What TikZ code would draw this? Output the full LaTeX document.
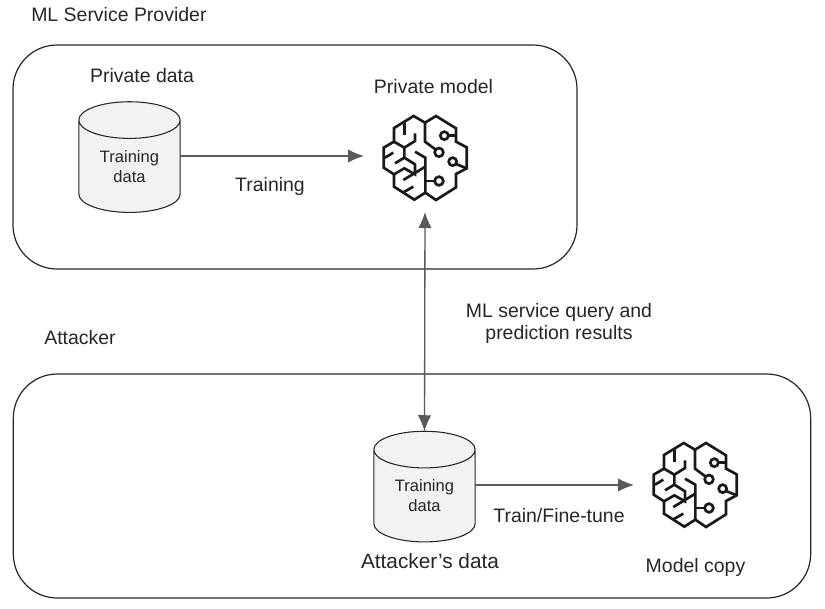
\documentclass[tikz,border=0pt]{standalone}
\usepackage{fontspec}
\setmainfont{Liberation Sans}
\usetikzlibrary{shapes.geometric}
\usetikzlibrary{arrows.meta}
\newcommand{\brainIcon}[1]{%%
  %% The outline and the wires of one brain.
  \begin{scope}[shift={(#1)},x=0.25pt,y=-0.25pt,shift={(-195,-204)},brainStyle]
    \draw (195,98) -- (161,78) -- (102,114) -- (102,155) -- (71,173) -- (71,233)
      -- (102,253) -- (102,290) -- (163,329) -- (196,308) -- (228,330) -- (288,292)
      -- (288,252) -- (320,235) -- (320,172) -- (288,155) -- (288,115) -- (228,78) -- cycle;
    \draw (195,98) -- (195,155) -- (226,178);
    \draw (165,185) -- (196,203) -- (196,308);
    \draw (133,97) -- (133,135);
    \draw (165,130) -- (165,153) -- (133,173) -- (102,155);
    \draw (133,173) -- (133,203) -- (105,220);
    \draw (133,203) -- (165,223) -- (165,253) -- (133,235) -- (102,253);
    \draw (75,203) -- (100,188);
    \draw (130,270) -- (196,230);
    \draw (130,307) -- (160,290);
    \draw (196,273) -- (225,273);
    \draw (265,137) -- (288,137);
    \draw (288,222) -- (320,235);
    \draw (237,187) circle (13);
    \draw (253,137) circle (12);
    \draw (278,215) circle (12);
    \draw (237,273) circle (13);
  \end{scope}
}

\begin{document}
\begin{tikzpicture}[%%
  x=0.75pt,y=-0.75pt,%%
  brainStyle/.style={line width=2pt,black!90,line join=miter},%%
  panelStyle/.style={draw=black!85,line width=0.9pt,rounded corners=33pt,inner sep=0pt},%%
  labelStyle/.style={font=\fontsize{14.6}{17}\selectfont,text=black!85,align=center,inner sep=0pt},%%
  iconStyle/.style={minimum width=91.5pt,minimum height=84pt,inner sep=0pt,outer sep=0pt},%%
  storeStyle/.style={cylinder,shape border rotate=90,aspect=0.62,draw=black!85,
    line width=0.8pt,fill=black!5,minimum width=76pt,minimum height=83pt,
    inner sep=0pt,outer sep=0pt,font=\fontsize{12.4}{15}\selectfont,text=black!85,align=center},%%
  flowStyle/.style={draw=black!65,line width=1pt,{Latex[length=12pt,width=10pt]}-{Latex[length=12pt,width=10pt]}},%%
  oneWayStyle/.style={draw=black!65,line width=1pt,-{Latex[length=12pt,width=10pt]}}%%
]
%%
\useasboundingbox (0,0) rectangle (825,608);
%%
%% The two panels.
\node[panelStyle,minimum width=423pt,minimum height=168pt] (provider) at (295,157) {};
\node[panelStyle,minimum width=598pt,minimum height=168pt] (attacker) at (412,486) {};
%%
%% The provider side.
\node[storeStyle] (privatedata) at (129.5,166.5) {Training\\data};
\node[iconStyle] (privatemodel) at (425,156) {};
\brainIcon{425,158}
%%
%% The attacker side.
\node[storeStyle] (attackerdata) at (424.5,496) {Training\\data};
\node[iconStyle] (modelcopy) at (695,485) {};
\brainIcon{695,485}
%%
%% The labels.
\node[labelStyle,anchor=west] (providerlabel) at (31,15) {ML Service Provider};
\node[labelStyle,anchor=west] (attackerlabel) at (44,338) {Attacker};
\node[labelStyle] (privatedatalabel) at (142,76) {Private data};
\node[labelStyle] (privatemodellabel) at (433.5,87) {Private model};
\node[labelStyle] (traininglabel) at (270,186) {Training};
\node[labelStyle] (querylabel) at (559,323.5) {ML service query and\\prediction results};
\node[labelStyle,font=\fontsize{15.6}{17}\selectfont] (attackerdatalabel) at (430,561) {Attacker’s data};
\node[labelStyle] (tunelabel) at (559,516) {Train/Fine-tune};
\node[labelStyle] (modelcopylabel) at (695.5,567) {Model copy};
%%
%% The connectors.
\draw[oneWayStyle] (privatedata.east |- privatemodel.west) -- (privatemodel.west);
\draw[flowStyle] (privatemodel.south) -- (attackerdata.north);
\draw[oneWayStyle] (attackerdata.east |- modelcopy.west) -- (modelcopy.west);
\end{tikzpicture}
\end{document}
